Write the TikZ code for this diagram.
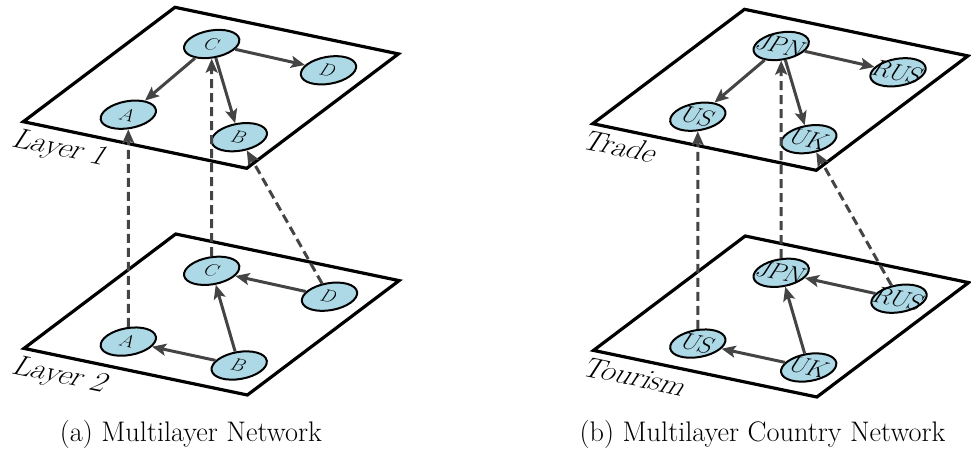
\documentclass[tikz,border=0pt]{standalone}
\usepackage{fontspec}
\usetikzlibrary{arrows.meta,shapes.geometric}
\definecolor{nodeblue}{HTML}{ADD8E6}
\definecolor{edgegray}{HTML}{444444}
\newcommand\mlfig[8]{%
  % planes
  \draw[plane] (23.3,331.3) -- ++(151.7,114.4) -- ++(223.4,-46.6) -- ++(-151.7,-114.4) -- cycle;
  \draw[plane] (24,104.6) -- ++(151.7,114.4) -- ++(223.4,-46.6) -- ++(-151.7,-114.4) -- cycle;
  % layer labels
  \node[lay] (#1L1) at (10.5,307) {#6};
  \node[lay] (#1L2) at (10.5,80) {#7};
  % top layer nodes
  \node[vert] (#1C1) at (211.7,409) {};
  \node[vert] (#1D1) at (328.5,382.7) {};
  \node[vert] (#1A1) at (128.3,338.3) {};
  \node[vert] (#1B1) at (239.3,315.8) {};
  % lower layer nodes
  \node[vert] (#1C2) at (211.7,182.2) {};
  \node[vert] (#1D2) at (329.5,156.3) {};
  \node[vert] (#1A2) at (128.3,111.4) {};
  \node[vert] (#1B2) at (239.2,87.5) {};
  % edges
  \draw[link] (#1C1) -- (#1A1);
  \draw[link] (#1C1) -- (#1D1);
  \draw[link] (#1C1) -- (#1B1);
  \draw[link] (#1D2) -- (#1C2);
  \draw[link] (#1B2) -- (#1C2);
  \draw[link] (#1B2) -- (#1A2);
  \draw[inter] (#1A2) -- (#1A1);
  \draw[inter] (#1C2) -- (#1C1);
  \draw[inter] (#1D2) -- (#1B1);
  % labels
  \foreach \n/\t in {C1/#2,D1/#3,A1/#4,B1/#5,C2/#2,D2/#3,A2/#4,B2/#5}
    \node[vlab,font=\fontsize{#8}{#8}\selectfont] (#1t\n) at (#1\n) {\t};
}
\begin{document}
\begin{tikzpicture}[x=1pt,y=1pt,
  plane/.style={draw=black, line width=3.2pt, line join=miter},
  vert/.style={draw=black, fill=nodeblue, ellipse, line width=2pt,
    minimum width=56pt, minimum height=27pt, inner sep=0pt, rotate=10},
  vlab/.style={cm={1,-0.2086,0.55,0.85,(0,0)}, inner sep=0pt},
  lay/.style={cm={1,-0.2086,0.55,0.85,(0,0)}, inner sep=0pt,
    anchor=base west, font=\fontsize{30.5}{35}\selectfont},
  link/.style={draw=edgegray, line width=3pt,
    -{Stealth[length=14pt,width=12pt,inset=3pt]}},
  inter/.style={draw=edgegray, line width=3pt, dash pattern=on 9pt off 5pt,
    -{Stealth[length=14pt,width=12pt,inset=3pt]}},
  captext/.style={anchor=base, inner sep=0pt, font=\fontsize{28.3}{34}\selectfont}
]
\useasboundingbox (0,0) rectangle (971,453);
\mlfig{l}{C}{D}{A}{B}{Layer 1}{Layer 2}{19}
\begin{scope}[shift={(569.5,-2)}]
\mlfig{r}{JPN}{RUS}{US}{UK}{Trade}{Tourism}{25}
\end{scope}
\node[captext] (capa) at (190.8,11.3) {(a) Multilayer Network};
\node[captext] (capb) at (762.5,11.3) {(b) Multilayer Country Network};
\end{tikzpicture}
\end{document}
